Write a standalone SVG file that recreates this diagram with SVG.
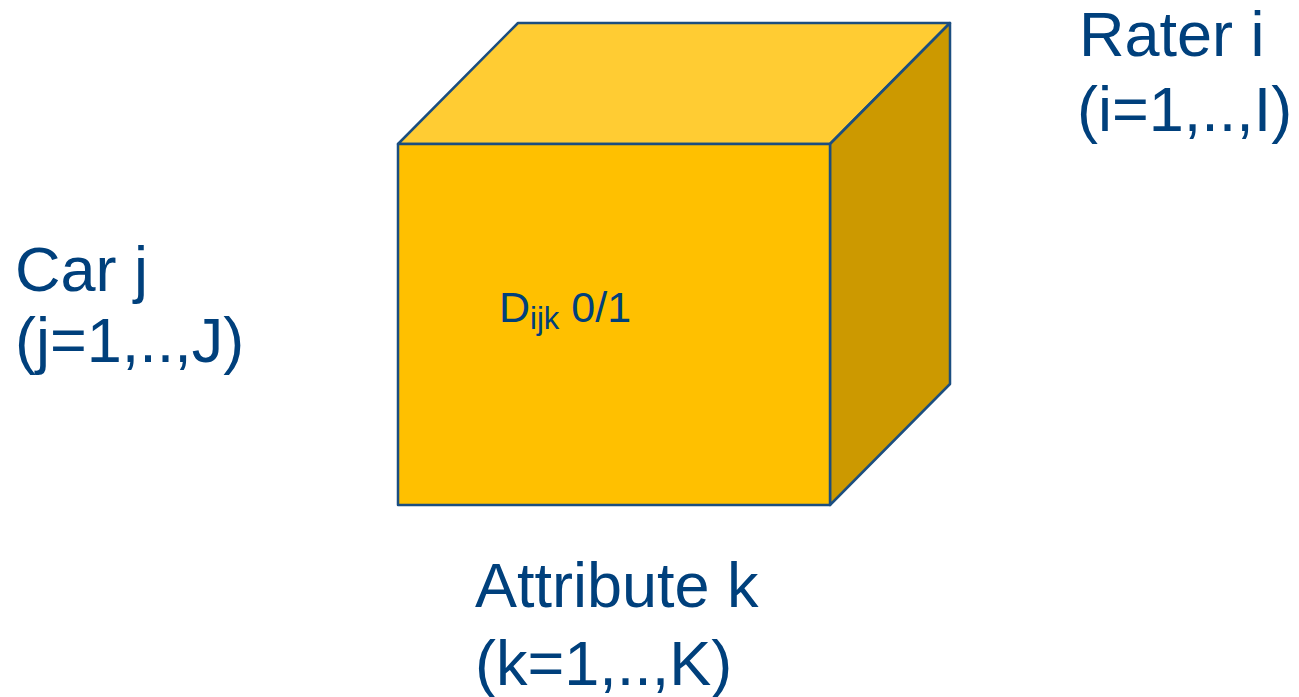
<svg xmlns="http://www.w3.org/2000/svg" width="1299" height="697" viewBox="0 0 1299 697">
<style>
.lbl{font-family:"Liberation Sans",Arial,sans-serif;fill:#00407C}
.big{font-size:63px}
.face{stroke:#1B4E80;stroke-width:2.5;stroke-linejoin:round}
</style>
<rect width="1299" height="697" fill="#FFFFFF"/>
<g id="cube">
<polygon class="face" points="398,144 518,23 950,23 830,144" fill="#FFCC33"/>
<polygon class="face" points="830,144 950,23 950,384 830,505" fill="#CC9900"/>
<rect class="face" x="398" y="144" width="432" height="361" fill="#FFC000"/>
<text class="lbl" x="499" y="322" font-size="43">D<tspan font-size="31" dy="7">ijk</tspan><tspan dy="-7"> 0/1</tspan></text>
</g>
<g id="rater">
<text class="lbl big" x="1079" y="56">Rater i</text>
<text class="lbl big" x="1077" y="131">(i=1,..,I)</text>
</g>
<g id="car">
<text class="lbl big" x="15" y="291">Car j</text>
<text class="lbl big" x="15" y="362">(j=1,..,J)</text>
</g>
<g id="attribute">
<text class="lbl big" x="475" y="607">Attribute k</text>
<text class="lbl big" x="475" y="685">(k=1,..,K)</text>
</g>
<g id="connectors"></g>
</svg>
